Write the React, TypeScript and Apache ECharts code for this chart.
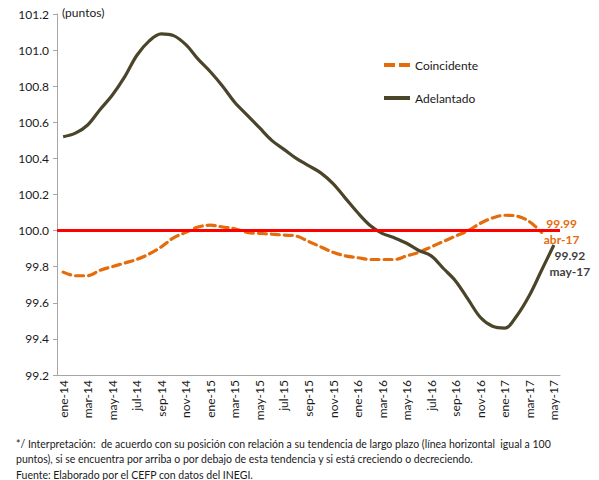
import React, { useEffect, useRef } from "react";
import * as echarts from "echarts";

const months = [
  "ene-14","feb-14","mar-14","abr-14","may-14","jun-14","jul-14","ago-14","sep-14","oct-14","nov-14","dic-14",
  "ene-15","feb-15","mar-15","abr-15","may-15","jun-15","jul-15","ago-15","sep-15","oct-15","nov-15","dic-15",
  "ene-16","feb-16","mar-16","abr-16","may-16","jun-16","jul-16","ago-16","sep-16","oct-16","nov-16","dic-16",
  "ene-17","feb-17","mar-17","abr-17","may-17",
];

const coincidente = [
  99.77, 99.75, 99.75, 99.78, 99.80, 99.82, 99.84, 99.87, 99.91, 99.96, 99.99, 100.02,
  100.03, 100.02, 100.01, 99.99, 99.985, 99.98, 99.975, 99.97, 99.94, 99.91, 99.88, 99.86,
  99.85, 99.84, 99.84, 99.84, 99.86, 99.88, 99.91, 99.94, 99.97, 100.0, 100.04, 100.07,
  100.085, 100.08, 100.05, 99.99,
];

const adelantado = [
  100.52, 100.54, 100.585, 100.67, 100.75, 100.85, 100.97, 101.05, 101.09, 101.08, 101.03, 100.95,
  100.88, 100.80, 100.71, 100.64, 100.57, 100.50, 100.45, 100.40, 100.36, 100.32, 100.26, 100.18,
  100.10, 100.03, 99.985, 99.96, 99.93, 99.89, 99.86, 99.79, 99.72, 99.62, 99.52, 99.47,
  99.46, 99.53, 99.64, 99.78, 99.92,
];

const trendLevel = 100;

const footnotes = [
  "*/ Interpretación:  de acuerdo con su posición con relación a su tendencia de largo plazo (línea horizontal  igual a 100",
  "puntos), si se encuentra por arriba o por debajo de esta tendencia y si está creciendo o decreciendo.",
  "Fuente: Elaborado por el CEFP con datos del INEGI.",
];

const FONT = "Lato";
const ORANGE = "#E46C0A";
const OLIVE = "#4A452A";

export default function App() {
  const ref = useRef<HTMLDivElement>(null);
  useEffect(() => {
    if (!ref.current) return;
    const chart = echarts.init(ref.current, null, { renderer: "svg" });
    const lastC = coincidente.length - 1;
    const lastA = adelantado.length - 1;
    chart.setOption({
      animation: false,
      backgroundColor: "#fff",
      textStyle: { fontFamily: FONT },
      grid: { left: 57, right: 39, top: 14, bottom: 105, containLabel: false },
      legend: {
        orient: "vertical",
        left: 384,
        top: 59,
        padding: 0,
        itemWidth: 26,
        itemHeight: 4,
        itemGap: 21,
        data: [
          { name: "Coincidente", icon: "path://M0,0h11v4h-11z M15,0h11v4h-11z" },
          { name: "Adelantado", icon: "path://M0,0h26v4h-26z" },
        ],
        textStyle: { fontFamily: FONT, fontSize: 12, color: "#1a1a1a" },
      },
      xAxis: {
        type: "category",
        data: months,
        boundaryGap: true,
        axisLine: { lineStyle: { color: "#A6A6A6", width: 1 } },
        axisTick: { interval: 1, length: 5, lineStyle: { color: "#A6A6A6" } },
        axisLabel: {
          interval: 1,
          rotate: 90,
          margin: 5,
          fontFamily: FONT,
          fontSize: 12,
          color: "#1a1a1a",
        },
        splitLine: { show: false },
      },
      yAxis: {
        type: "value",
        min: 99.2,
        max: 101.2,
        interval: 0.2,
        axisLine: { show: true, lineStyle: { color: "#A6A6A6", width: 1 } },
        axisTick: { show: true, length: 4, lineStyle: { color: "#A6A6A6" } },
        axisLabel: {
          fontFamily: FONT,
          fontSize: 12,
          color: "#1a1a1a",
          margin: 8,
          formatter: (v: number) => v.toFixed(1),
        },
        splitLine: { show: false },
      },
      graphic: [
        {
          type: "text",
          left: 62,
          top: 6,
          style: { text: "(puntos)", font: `12px ${FONT}`, fill: "#1a1a1a" },
        },
        ...footnotes.map((t, i) => ({
          type: "text",
          left: 16,
          top: 438 + i * 15.5,
          style: { text: t, font: `10.5px ${FONT}`, fill: "#1a1a1a" },
        })),
      ],
      series: [
        {
          name: "Tendencia",
          type: "line",
          data: [],
          z: 1,
          markLine: {
            silent: true,
            symbol: "none",
            label: { show: false },
            lineStyle: { color: "#FF0000", width: 3, type: "solid" },
            data: [{ yAxis: trendLevel }],
          },
        },
        {
          name: "Coincidente",
          type: "line",
          data: coincidente,
          smooth: 0.35,
          showSymbol: false,
          symbol: "none",
          z: 3,
          lineStyle: { color: ORANGE, width: 3.2, type: [8, 5], cap: "round" },
          itemStyle: { color: ORANGE },
          markPoint: {
            symbol: "rect",
            symbolSize: 1,
            itemStyle: { color: "rgba(0,0,0,0)" },
            data: [{ coord: [lastC, coincidente[lastC]] }],
            label: {
              show: true,
              position: "inside",
              offset: [20, -1],
              align: "center",
              lineHeight: 16,
              fontFamily: FONT,
              fontSize: 12,
              fontWeight: "bold",
              color: ORANGE,
              formatter: () => `${coincidente[lastC].toFixed(2)}\n${months[lastC]}`,
            },
          },
        },
        {
          name: "Adelantado",
          type: "line",
          data: adelantado,
          smooth: 0.35,
          showSymbol: false,
          symbol: "none",
          z: 4,
          lineStyle: { color: OLIVE, width: 3.2 },
          itemStyle: { color: OLIVE },
          markPoint: {
            symbol: "rect",
            symbolSize: 1,
            itemStyle: { color: "rgba(0,0,0,0)" },
            data: [{ coord: [lastA, adelantado[lastA]] }],
            label: {
              show: true,
              position: "inside",
              offset: [16, 18],
              align: "center",
              lineHeight: 16,
              fontFamily: FONT,
              fontSize: 12,
              fontWeight: "bold",
              color: "#3F3F3F",
              formatter: () => `${adelantado[lastA].toFixed(2)}\n${months[lastA]}`,
            },
          },
        },
      ],
    });
    return () => chart.dispose();
  }, []);
  return <div ref={ref} style={{ width: 599, height: 480, position: "absolute", left: 0, top: 0 }} />;
}
